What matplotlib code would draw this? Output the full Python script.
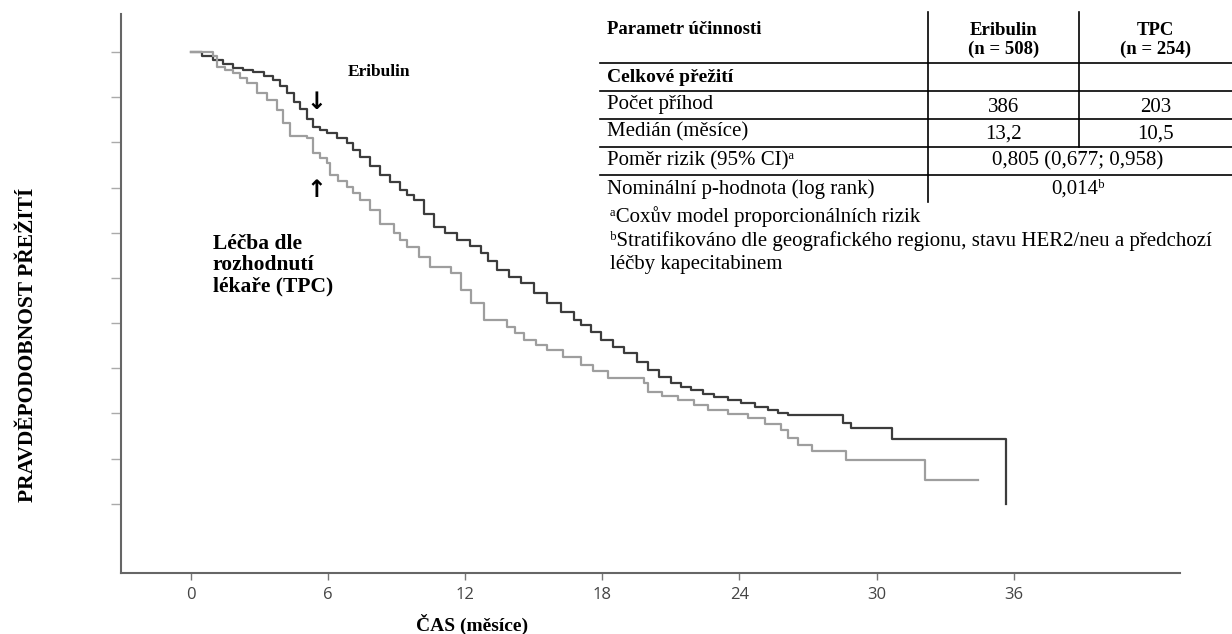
import matplotlib
matplotlib.use("Agg")
import matplotlib.pyplot as plt

# --- data ---
eri_t = [0, 0.5, 0.98, 1.4, 1.86, 2.3, 2.73, 3.2, 3.61, 3.9,
         4.2, 4.5, 4.78, 5.1, 5.36, 5.65, 5.95, 6.4, 6.83, 7.1,
         7.41, 7.85, 8.29, 8.7, 9.17, 9.45, 9.75, 10.2, 10.63, 11.1,
         11.65, 12.2, 12.68, 13.0, 13.41, 13.9, 14.43, 15.0, 15.6, 16.2,
         16.77, 17.06, 17.5, 17.94, 18.45, 18.96, 19.5, 19.99, 20.5, 21.01,
         21.45, 21.89, 22.4, 22.91, 23.5, 24.08, 24.7, 25.25, 25.7, 26.13,
         28.54, 28.9, 30.66, 35.66]
eri_s = [1.0, 0.99, 0.982, 0.973, 0.964, 0.96, 0.956, 0.947, 0.938, 0.924,
         0.909, 0.89, 0.873, 0.852, 0.835, 0.827, 0.82, 0.81, 0.798, 0.783,
         0.768, 0.748, 0.728, 0.712, 0.695, 0.684, 0.673, 0.642, 0.613, 0.599,
         0.584, 0.57, 0.555, 0.537, 0.518, 0.503, 0.488, 0.466, 0.444, 0.425,
         0.407, 0.396, 0.38, 0.363, 0.348, 0.333, 0.315, 0.296, 0.281, 0.267,
         0.259, 0.252, 0.244, 0.237, 0.23, 0.223, 0.215, 0.208, 0.202, 0.197,
         0.179, 0.167, 0.143, 0.0]

tpc_t = [0, 0.96, 1.13, 1.5, 1.86, 2.15, 2.44, 2.88, 3.32, 3.76,
         4.05, 4.34, 5.07, 5.36, 5.65, 5.95, 6.1, 6.45, 6.83, 7.1,
         7.41, 7.85, 8.29, 8.87, 9.15, 9.46, 10.0, 10.48, 11.36, 11.8,
         12.24, 12.82, 13.85, 14.2, 14.58, 15.1, 15.6, 16.3, 17.06, 17.6,
         18.23, 19.84, 19.99, 20.6, 21.3, 22.0, 22.61, 23.5, 24.37, 25.1,
         25.83, 26.13, 26.57, 27.16, 28.68, 32.12, 34.42]
tpc_s = [1.0, 0.99, 0.967, 0.96, 0.953, 0.942, 0.931, 0.909, 0.894, 0.872,
         0.842, 0.813, 0.81, 0.776, 0.765, 0.754, 0.728, 0.715, 0.702, 0.688,
         0.673, 0.65, 0.62, 0.599, 0.584, 0.569, 0.547, 0.525, 0.51, 0.473,
         0.444, 0.407, 0.392, 0.378, 0.363, 0.352, 0.341, 0.325, 0.308, 0.293,
         0.278, 0.267, 0.248, 0.239, 0.23, 0.219, 0.208, 0.199, 0.19, 0.177,
         0.164, 0.145, 0.131, 0.116, 0.097, 0.052, 0.052]

x_ticks = [0, 6, 12, 18, 24, 30, 36]
y_ticks = [0.0, 0.1, 0.2, 0.3, 0.4, 0.5, 0.6, 0.7, 0.8, 0.9, 1.0]

tab_head = ["Parametr účinnosti", "Eribulin\n(n = 508)", "TPC\n(n = 254)"]
tab_section = "Celkové přežití"
tab_rows = [("Počet příhod", "386", "203"),
            ("Medián (měsíce)", "13,2", "10,5")]
tab_joint = [("Poměr rizik (95% CI)ᵃ", "0,805 (0,677; 0,958)"),
             ("Nominální p-hodnota (log rank)", "0,014ᵇ")]
footnotes = ["ᵃCoxův model proporcionálních rizik",
             "ᵇStratifikováno dle geografického regionu, stavu HER2/neu a předchozí",
             "léčby kapecitabinem"]

serif = ["Liberation Serif", "DejaVu Serif"]

fig = plt.figure(figsize=(12.32, 6.34), dpi=100)
ax = fig.add_axes([121 / 1232, 61 / 634, (1180 - 121) / 1232, (573 - 14) / 634])
ax.patch.set_visible(False)

ax.step(eri_t, eri_s, where="post", color="#3c3c3c", lw=1.6)
ax.step(tpc_t, tpc_s, where="post", color="#9e9e9e", lw=1.6)

ax.set_xlim(-3.06, 43.28)
ax.set_ylim(-0.153, 1.084)
ax.set_xticks(x_ticks)
ax.set_xticklabels([str(v) for v in x_ticks], fontfamily="Open Sans",
                   fontsize=12, color="#444444")
ax.set_yticks(y_ticks)
ax.set_yticklabels([])
ax.tick_params(axis="x", length=5, width=1, color="#777777", pad=5)
ax.tick_params(axis="y", length=7, width=1, color="#aaaaaa")
for s in ["top", "right"]:
    ax.spines[s].set_visible(False)
for s in ["left", "bottom"]:
    ax.spines[s].set_color("#666666")
    ax.spines[s].set_linewidth(1.5)

# curve labels and arrows
ax.text(6.87, 0.955, "Eribulin", family=serif, fontweight="bold", fontsize=12.5,
        ha="left", va="center")
ax.text(5.5, 0.89, "↓", family="DejaVu Sans", fontweight="bold", fontsize=17,
        ha="center", va="center")
ax.text(5.5, 0.695, "↑", family="DejaVu Sans", fontweight="bold", fontsize=17,
        ha="center", va="center")
ax.text(0.96, 0.598, "Léčba dle\nrozhodnutí\nlékaře (TPC)", family=serif,
        fontweight="bold", fontsize=15.5, ha="left", va="top", linespacing=1.1)

# overlay in pixel coordinates for labels and table
ov = fig.add_axes([0, 0, 1, 1], zorder=3)
ov.patch.set_visible(False)
ov.set_xlim(0, 1232)
ov.set_ylim(634, 0)
ov.axis("off")

ov.text(28, 345, "PRAVDĚPODOBNOST PŘEŽITÍ", family=serif, fontweight="bold",
        fontsize=15.5, rotation=90, ha="center", va="center")
ov.text(472, 624, "ČAS (měsíce)", family=serif, fontweight="bold",
        fontsize=14, ha="center", va="center")

# table
fs = 15
lc = "black"
c1, c2, right = 928, 1079, 1232
ov.plot([c1, c1], [12, 202], color=lc, lw=1.2)
ov.plot([c2, c2], [12, 147], color=lc, lw=1.2)
for yy in [63, 91, 119, 147, 175]:
    ov.plot([600, right], [yy, yy], color=lc, lw=1.2)

ov.text(607, 30, tab_head[0], family=serif, fontweight="bold", fontsize=13.5,
        ha="left", va="center")
ov.text((c1 + c2) / 2, 40, tab_head[1], family=serif, fontweight="bold",
        fontsize=13.5, ha="center", va="center", linespacing=1.12)
ov.text((c2 + right) / 2, 40, tab_head[2], family=serif, fontweight="bold",
        fontsize=13.5, ha="center", va="center", linespacing=1.12)
ov.text(607, 78, tab_section, family=serif, fontweight="bold", fontsize=14,
        ha="left", va="center")

row_y = [105, 132]
for (lab, a, b), yy in zip(tab_rows, row_y):
    ov.text(607, yy, lab, family=serif, fontsize=fs, ha="left", va="center")
    ov.text((c1 + c2) / 2, yy + 2, a, family=serif, fontsize=fs, ha="center", va="center")
    ov.text((c2 + right) / 2, yy + 2, b, family=serif, fontsize=fs, ha="center", va="center")

joint_y = [161, 189]
for (lab, v), yy in zip(tab_joint, joint_y):
    ov.text(607, yy, lab, family=serif, fontsize=fs, ha="left", va="center")
    ov.text((c1 + right) / 2 - 2, yy, v, family=serif, fontsize=fs,
            ha="center", va="center")

for txt, yy in zip(footnotes, [217, 241, 264]):
    ov.text(610, yy, txt, family=serif, fontsize=fs, ha="left", va="center")

fig.savefig("out.png", dpi=100)
